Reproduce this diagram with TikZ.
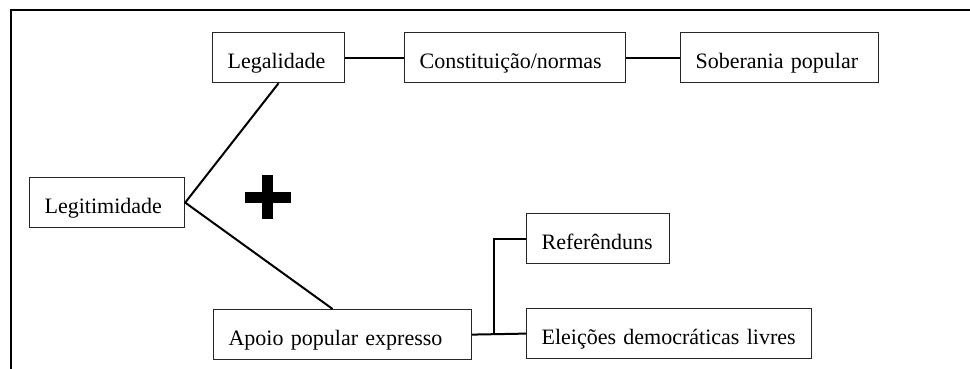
\documentclass[tikz,border=0pt]{standalone}
\usepackage{fontspec}
\setmainfont{Liberation Serif}
\usetikzlibrary{calc}
\tikzset{
  box/.style={draw=black!85, line width=1.2pt, anchor=north west, inner xsep=15pt, inner ysep=0pt,
    text height=36pt, text depth=14pt, align=left, font=\fontsize{22pt}{24pt}\selectfont},
  link/.style={line width=2pt, black}
}
\begin{document}
\begin{tikzpicture}[x=1pt,y=-1pt]
\useasboundingbox (0,0) rectangle (970,369);
\draw[line width=2.2pt] (11,369) -- (11,10) -- (970,10);
\node[box, text width=102pt] (leg) at (212,32) {Legalidade};
\node[box, text width=191pt] (con) at (404,32) {Constituição/normas};
\node[box, text width=168pt] (sob) at (680,32) {Soberania popular};
\node[box, text width=125pt] (legit) at (29,177) {Legitimidade};
\node[box, text width=228pt] (apo) at (213,309) {Apoio popular expresso};
\node[box, text width=113pt] (ref) at (526,213) {Referênduns};
\node[box, text width=255pt] (ele) at (526,308) {Eleições democráticas livres};
\coordinate (j) at (494,333.5);
\draw[link] (leg.east) -- (con.west);
\draw[link] (con.east) -- (sob.west);
\draw[link] (leg.south) -- (legit.east) -- ([xshift=-10pt]apo.north);
\draw[link] (apo.east) -- (ele.west);
\draw[link] (ref.west) -| (j);
\fill[black] (245,192) rectangle (291,203);
\fill[black] (262,175) rectangle (273,219);
\end{tikzpicture}
\end{document}
